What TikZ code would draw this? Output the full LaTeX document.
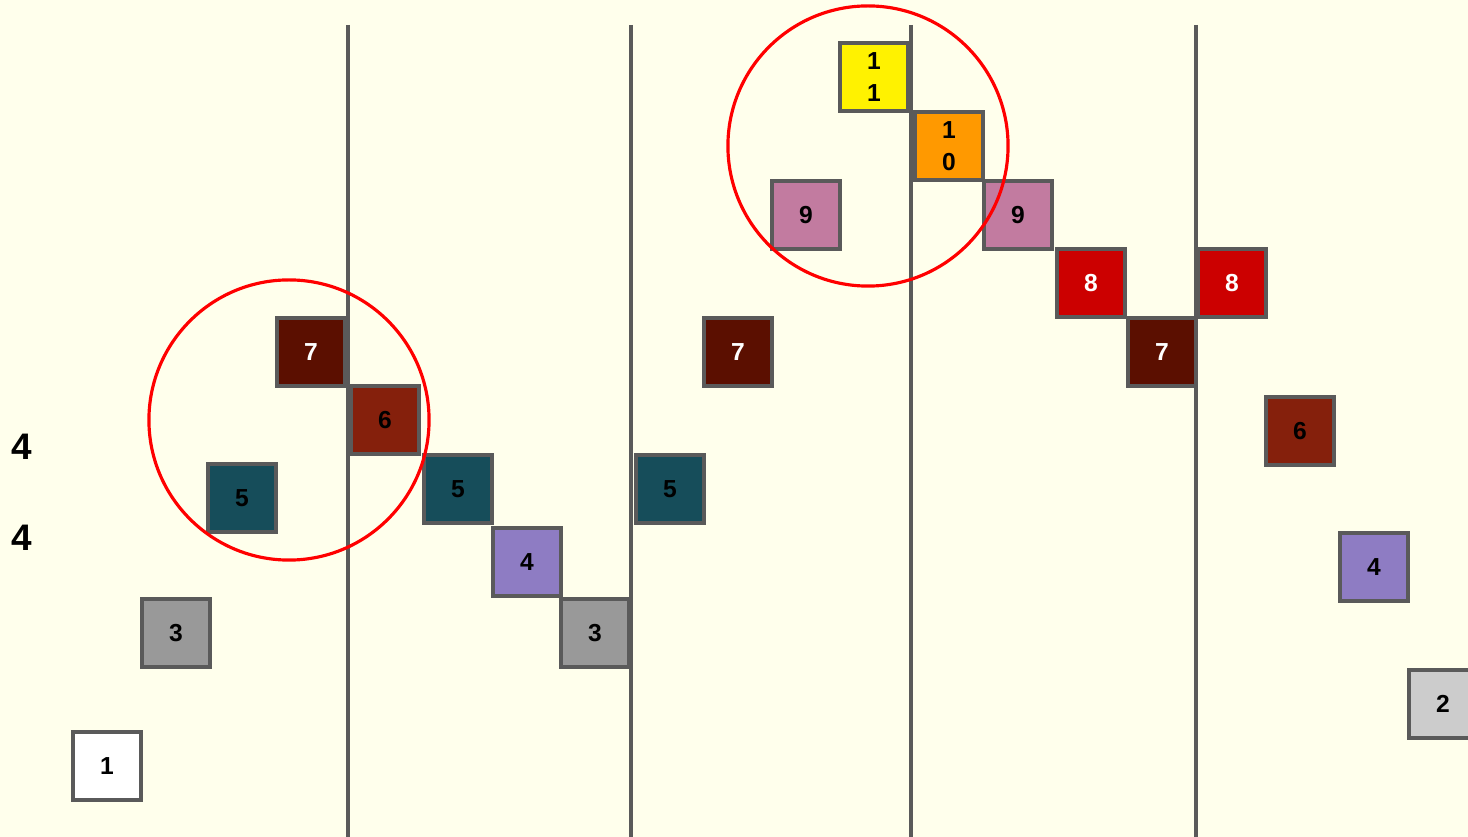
\documentclass[tikz,border=0pt]{standalone}
\usepackage{fontspec}
\setmainfont{Liberation Sans}
\definecolor{paper}{RGB}{255,255,236}
\definecolor{edge}{RGB}{90,90,90}
\definecolor{teal5}{RGB}{22,77,90}
\definecolor{brown7}{RGB}{91,15,0}
\definecolor{brown6}{RGB}{133,32,12}
\definecolor{purple4}{RGB}{142,124,195}
\definecolor{pink9}{RGB}{194,123,160}
\definecolor{orange10}{RGB}{255,153,0}
\definecolor{red8}{RGB}{204,0,0}
\definecolor{gray3}{RGB}{153,153,153}
\definecolor{gray2}{RGB}{204,204,204}

\begin{document}
\begin{tikzpicture}[
  x=0.01cm, y=-0.01cm,
  font=\bfseries\fontsize{7}{9}\selectfont,
  blk/.style={draw=edge, line width=0.9pt, minimum size=0.68cm, inner sep=0pt, align=center},
  sep/.style={draw=edge, line width=1.2pt},
  ring/.style={draw=red, line width=0.9pt},
  big/.style={font=\bfseries\fontsize{10.5}{12}\selectfont}]
\fill[paper] (0,0) rectangle (1468,837);
\useasboundingbox (0,0) rectangle (1468,837);
% dividers
\foreach \x in {348,631,911,1196}
  \draw[sep] (\x,25) -- (\x,837);
% left margin
\node[big] (fourA) at (22,447) {4};
\node[big] (fourB) at (22,538) {4};
% first part
\node[blk, fill=white] (b1) at (107,766) {1};
\node[blk, fill=gray3] (b3a) at (176,633) {3};
\node[blk, fill=teal5] (b5a) at (242,498) {5};
\node[blk, fill=brown7, text=white] (b7a) at (311,352) {7};
% second part
\node[blk, fill=brown6] (b6a) at (385,420) {6};
\node[blk, fill=teal5] (b5b) at (458,489) {5};
\node[blk, fill=purple4] (b4a) at (527,562) {4};
\node[blk, fill=gray3] (b3b) at (595,633) {3};
% third part
\node[blk, fill=teal5] (b5c) at (670,489) {5};
\node[blk, fill=brown7, text=white] (b7b) at (738,352) {7};
\node[blk, fill=pink9] (b9a) at (806,215) {9};
\node[blk, fill=yellow] (b11) at (874,77) {1\\1};
% fourth part
\node[blk, fill=orange10] (b10) at (949,146) {1\\0};
\node[blk, fill=pink9] (b9b) at (1018,215) {9};
\node[blk, fill=red8, text=white] (b8a) at (1091,283) {8};
\node[blk, fill=brown7, text=white] (b7c) at (1162,352) {7};
% last part
\node[blk, fill=red8, text=white] (b8b) at (1232,283) {8};
\node[blk, fill=brown6] (b6b) at (1300,431) {6};
\node[blk, fill=purple4] (b4b) at (1374,567) {4};
\node[blk, fill=gray2] (b2) at (1443,704) {2};
% highlights
\draw[ring] (289,420) circle (1.4cm);
\draw[ring] (868,146) circle (1.4cm);
\end{tikzpicture}
\end{document}
